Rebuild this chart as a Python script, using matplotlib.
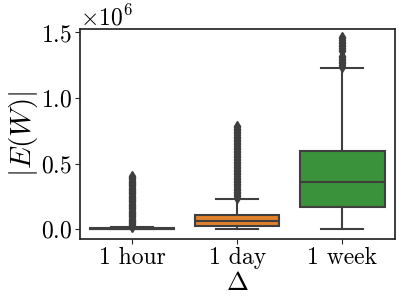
import matplotlib
matplotlib.use("Agg")
import matplotlib.pyplot as plt

plt.rcParams['font.family'] = 'serif'
plt.rcParams['font.serif'] = ['cmr10']
plt.rcParams['mathtext.fontset'] = 'cm'
plt.rcParams['axes.formatter.use_mathtext'] = True

# values (in W, scale 1e6)
labels = ["1 hour", "1 day", "1 week"]
colors = ["#3274a1", "#e1812c", "#3a923a"]
q1 = [0.0, 0.022e6, 0.172e6]
med = [0.002e6, 0.060e6, 0.360e6]
q3 = [0.006e6, 0.112e6, 0.598e6]
whislo = [0.0, 0.0, 0.0]
whishi = [0.014e6, 0.234e6, 1.232e6]

hour_fliers = [0.016, 0.022, 0.03, 0.038, 0.047, 0.055, 0.064, 0.072, 0.081, 0.09,
               0.099, 0.108, 0.116, 0.125, 0.134, 0.142, 0.151, 0.16, 0.169, 0.177,
               0.186, 0.195, 0.204, 0.213, 0.221, 0.23, 0.239, 0.248, 0.256, 0.265,
               0.274, 0.283, 0.292, 0.3, 0.309, 0.318, 0.327, 0.336, 0.345, 0.354,
               0.362, 0.371, 0.38, 0.388, 0.396, 0.404]
day_fliers = [0.24, 0.25, 0.262, 0.274, 0.286, 0.298, 0.31, 0.322, 0.334, 0.346,
              0.358, 0.37, 0.382, 0.394, 0.406, 0.418, 0.43, 0.442, 0.454, 0.466,
              0.478, 0.49, 0.502, 0.514, 0.526, 0.538, 0.55, 0.562, 0.574, 0.586,
              0.598, 0.61, 0.622, 0.634, 0.646, 0.658, 0.67, 0.682, 0.694, 0.706,
              0.718, 0.73, 0.742, 0.754, 0.766, 0.778, 0.786]
week_fliers = [1.24, 1.252, 1.264, 1.276, 1.288, 1.3, 1.31, 1.318, 1.358, 1.37,
               1.382, 1.394, 1.406, 1.418, 1.43, 1.442, 1.454, 1.462]
fliers = [hour_fliers, day_fliers, week_fliers]

stats = []
for i in range(3):
    stats.append(dict(q1=q1[i], med=med[i], q3=q3[i], whislo=whislo[i],
                      whishi=whishi[i], fliers=[v * 1e6 for v in fliers[i]]))

fig = plt.figure(figsize=(3.99, 2.99), dpi=100)
ax = fig.add_axes([0.2, 0.2, 0.79, 0.702])

line_c = "#3f3f3f"
bp = ax.bxp(stats, positions=[0, 1, 2], widths=0.8, patch_artist=True,
            boxprops=dict(edgecolor=line_c, linewidth=1.5),
            medianprops=dict(color=line_c, linewidth=1.5),
            whiskerprops=dict(color=line_c, linewidth=1.5),
            capprops=dict(color=line_c, linewidth=1.5),
            flierprops=dict(marker='d', markerfacecolor=line_c, markeredgecolor=line_c,
                            markersize=5, linestyle='none'),
            capwidths=0.4)
for patch, c in zip(bp['boxes'], colors):
    patch.set_facecolor(c)

ax.set_xlim(-0.5, 2.5)
ax.set_ylim(-0.076e6, 1.524e6)
ax.set_xticks([0, 1, 2])
ax.set_xticklabels(labels)
ax.set_yticks([0, 0.5e6, 1.0e6, 1.5e6])
ax.tick_params(labelsize=17, colors='#262626', labelcolor='black', pad=2)
ax.yaxis.get_offset_text().set_fontsize(17)
for s in ax.spines.values():
    s.set_color('#262626')
    s.set_linewidth(1.25)

ax.set_ylabel(r"$|E(W)|$", fontsize=21, labelpad=1)
ax.set_xlabel(r"$\Delta$", fontsize=19, labelpad=2)

fig.savefig("out.png", dpi=100)
